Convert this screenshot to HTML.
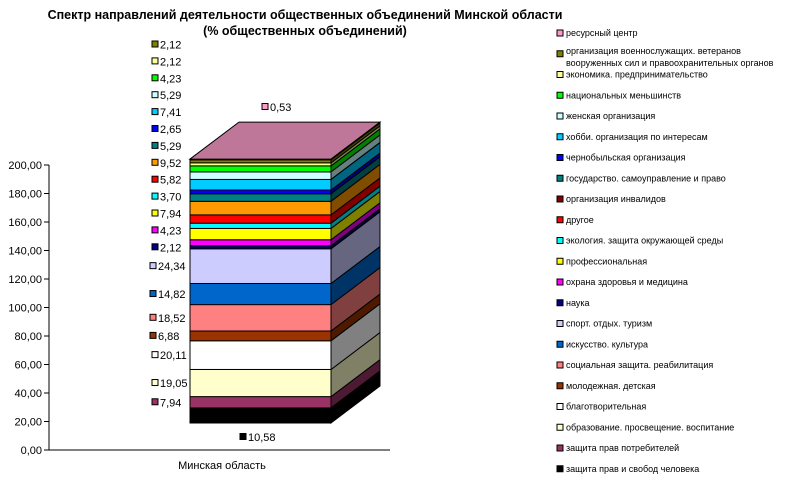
<!DOCTYPE html>
<html><head><meta charset="utf-8"><style>
body{margin:0;background:#fff;}
svg{display:block;font-family:"Liberation Sans",Arial,sans-serif;}
</style></head><body>
<svg id="chart" width="806" height="495" viewBox="0 0 806 495" xmlns="http://www.w3.org/2000/svg">
<text x="305" y="19" font-size="12.5" font-weight="bold" text-anchor="middle">Спектр направлений деятельности общественных объединений Минской области</text>
<text x="305" y="35" font-size="12.5" font-weight="bold" text-anchor="middle">(% общественных объединений)</text>
<g id="axis"></g>
<g id="bars"></g>
<g id="labels"></g>
<g id="legend"></g>
</svg>
<script>
const categories = ["защита прав и свобод человека","защита прав потребителей","образование. просвещение.  воспитание","благотворительная","молодежная. детская","социальная защита. реабилитация","искусство. культура","спорт. отдых. туризм","наука","охрана здоровья и медицина","профессиональная","экология. защита окружающей среды","другое","организация инвалидов","государство. самоуправление и право","чернобыльская организация","хобби. организация по интересам","женская организация","национальных меньшинств","экономика. предпринимательство","организация военнослужащих. ветеранов вооруженных сил и правоохранительных органов","ресурсный центр"];
const values = [10.58,7.94,19.05,20.11,6.88,18.52,14.82,24.34,2.12,4.23,7.94,3.70,5.82,9.52,5.29,2.65,7.41,5.29,4.23,2.12,2.12,0.53];
const valueLabels = ["10,58","7,94","19,05","20,11","6,88","18,52","14,82","24,34","2,12","4,23","7,94","3,70","5,82","9,52","5,29","2,65","7,41","5,29","4,23","2,12","2,12","0,53"];
const colors = ["#000000","#993366","#FFFFCC","#FFFFFF","#993300","#FF8080","#0066CC","#CCCCFF","#000080","#FF00FF","#FFFF00","#00FFFF","#FF0000","#FF9900","#008080","#0000FF","#00CCFF","#CCFFFF","#00FF00","#FFFF99","#808000","#FF99CC"];
const legendColors = ["#000000","#993366","#FFFFCC","#FFFFFF","#993300","#FF8080","#0066CC","#CCCCFF","#000080","#FF00FF","#FFFF00","#00FFFF","#FF0000","#800000","#008080","#0000FF","#00CCFF","#CCFFFF","#00FF00","#FFFF99","#808000","#FF99CC"];
const yTicks = [0,20,40,60,80,100,120,140,160,180,200];
const yTickLabels = ["0,00","20,00","40,00","60,00","80,00","100,00","120,00","140,00","160,00","180,00","200,00"];
const xCategory = "Минская область";

const NS="http://www.w3.org/2000/svg";
function mk(tag,attrs,parent){const e=document.createElementNS(NS,tag);for(const k in attrs)e.setAttribute(k,attrs[k]);parent.appendChild(e);return e;}
function shade(hex,f){const n=parseInt(hex.slice(1),16);const r=Math.round(((n>>16)&255)*f),g=Math.round(((n>>8)&255)*f),b=Math.round((n&255)*f);return `rgb(${r},${g},${b})`;}
// axis scale (back wall)
const axY0=450, axPx=(450-165)/200;
const yAxis=v=>axY0-v*axPx;
// front face scale
const fY0=423, fX0=190, fX1=331, dX=49, dY=-37;
const fy=v=>fY0-v*axPx;

const axis=document.getElementById('axis');
let l=mk('line',{x1:49,y1:yAxis(200),x2:49,y2:axY0,stroke:'#000'},axis);

l=mk('line',{x1:49,y1:axY0,x2:390,y2:axY0,stroke:'#000'},axis);

yTicks.forEach((t,i)=>{
  const y=yAxis(t);
  const tk=mk('line',{x1:44,y1:y,x2:49,y2:y,stroke:'#000'},axis);
  
  const tx=mk('text',{x:42,y:y+4,'font-size':11,'text-anchor':'end'},axis);
  tx.textContent=yTickLabels[i];
  
});
const xl=mk('text',{x:222,y:469,'font-size':11,'text-anchor':'middle'},axis);
xl.textContent=xCategory;


const bars=document.getElementById('bars');
let cum=0;const centers=[];
values.forEach((v,i)=>{
  const yb=fy(cum), yt=fy(cum+v);
  centers.push((yb+yt)/2);
  const g=mk('g',{},bars);
  
  mk('rect',{x:fX0,y:yt,width:fX1-fX0,height:yb-yt,fill:colors[i],stroke:'#000','stroke-width':1},g);
  mk('polygon',{points:`${fX1},${yb} ${fX1+dX},${yb+dY} ${fX1+dX},${yt+dY} ${fX1},${yt}`,fill:shade(colors[i],0.5),stroke:'#000','stroke-width':1},g);
  if(i===values.length-1){
    mk('polygon',{points:`${fX0},${yt} ${fX0+dX},${yt+dY} ${fX1+dX},${yt+dY} ${fX1},${yt}`,fill:'#BF7799',stroke:'#000','stroke-width':1},g);
  }
  cum+=v;
});

const labels=document.getElementById('labels');
function addLabel(i,x,y){
  const g=mk('g',{},labels);
  
  mk('rect',{x:x,y:y-3.5,width:6,height:6,fill:colors[i],stroke:'#000','stroke-width':1},g);
  const t=mk('text',{x:x+8,y:y+4,'font-size':11},g);t.textContent=valueLabels[i];
}
addLabel(0,240,437);
addLabel(values.length-1,262,107);
let prev=1e9;
for(let i=1;i<values.length-1;i++){
  let y=Math.min(centers[i],prev-16.9);
  prev=y;
  addLabel(i,i>=4&&i<=7?150:152,y);
}

const legend=document.getElementById('legend');
const order=[...categories.keys()].reverse();
order.forEach((ci,k)=>{
  const y=33+k*20.75;
  const g=mk('g',{},legend);
  
  mk('rect',{x:557,y:y-3,width:6,height:6,fill:legendColors[ci],stroke:'#000','stroke-width':1},g);
  const name=categories[ci];
  if(name.length>60){
    const t=mk('text',{x:566,y:y,'font-size':9},g);t.textContent="организация военнослужащих. ветеранов";
    const t2=mk('text',{x:566,y:y+12,'font-size':9},g);t2.textContent="вооруженных сил и правоохранительных органов";
  } else {
    const t=mk('text',{x:566,y:y+3,'font-size':9},g);t.textContent=name;
  }
});
</script>
</body></html>
